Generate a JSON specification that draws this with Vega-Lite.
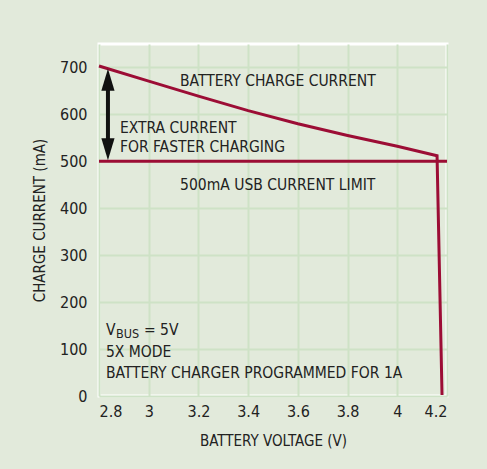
{
  "$schema": "https://vega.github.io/schema/vega-lite/v6.json",
  "width": 348,
  "height": 352,
  "autosize": {"type": "none"},
  "padding": {"left": 99, "top": 44, "right": 40, "bottom": 73},
  "background": "#e2eadb",
  "config": {
    "font": "DejaVu Sans Condensed",
    "view": {"stroke": "#ffffff", "strokeWidth": 3, "fill": null},
    "axis": {
      "labelFont": "DejaVu Sans Condensed",
      "titleFont": "DejaVu Sans Condensed",
      "labelFontSize": 16,
      "titleFontSize": 15,
      "labelColor": "#222222",
      "titleColor": "#222222",
      "titleFontWeight": "normal",
      "gridColor": "#cee2c6",
      "gridWidth": 2,
      "gridOpacity": 1,
      "domain": false,
      "ticks": false
    }
  },
  "layer": [
    {
      "data": {"values": [
        {"v": 2.8, "i": 703},
        {"v": 3.0, "i": 671},
        {"v": 3.2, "i": 639},
        {"v": 3.4, "i": 608},
        {"v": 3.6, "i": 580},
        {"v": 3.8, "i": 555},
        {"v": 4.0, "i": 532},
        {"v": 4.16, "i": 512},
        {"v": 4.18, "i": 2}
      ]},
      "mark": {"type": "line", "color": "#9c0d35", "strokeWidth": 3, "clip": false},
      "encoding": {
        "x": {"field": "v", "type": "quantitative", "scale": {"domain": [2.8, 4.2], "nice": false, "zero": false},
          "axis": {"values": [2.8, 3, 3.2, 3.4, 3.6, 3.8, 4, 4.2], "format": ".1~f", "labelPadding": 7, "title": "BATTERY VOLTAGE (V)", "titlePadding": 14}},
        "y": {"field": "i", "type": "quantitative", "scale": {"domain": [0, 750], "nice": false},
          "axis": {"values": [0, 50, 100, 150, 200, 250, 300, 350, 400, 450, 500, 550, 600, 650, 700, 750],
            "labelExpr": "datum.value % 100 == 0 ? datum.label : ''", "labelPadding": 12,
            "title": "CHARGE CURRENT (mA)", "titlePadding": 12}}
      }
    },
    {
      "data": {"values": [{"v": 2.8, "i": 500}, {"v": 4.2, "i": 500}]},
      "mark": {"type": "line", "color": "#9c0d35", "strokeWidth": 3},
      "encoding": {
        "x": {"field": "v", "type": "quantitative"},
        "y": {"field": "i", "type": "quantitative"}
      }
    },
    {
      "data": {"values": [{"v": 2.836, "i1": 520, "i2": 680}]},
      "mark": {"type": "rule", "color": "#111111", "strokeWidth": 4},
      "encoding": {
        "x": {"field": "v", "type": "quantitative"},
        "y": {"field": "i1", "type": "quantitative"},
        "y2": {"field": "i2"}
      }
    },
    {
      "data": {"values": [{"v": 2.836, "i": 674, "dir": "up"}, {"v": 2.836, "i": 526, "dir": "down"}]},
      "mark": {"type": "point", "filled": true, "color": "#111111", "opacity": 1, "size": 484},
      "encoding": {
        "x": {"field": "v", "type": "quantitative"},
        "y": {"field": "i", "type": "quantitative"},
        "shape": {"field": "dir", "type": "nominal", "legend": null,
          "scale": {"domain": ["up", "down"], "range": ["M0,-1L0.6,1L-0.6,1Z", "M0,1L0.6,-1L-0.6,-1Z"]}}
      }
    },
    {
      "data": {"values": [
        {"v": 3.126, "i": 672, "t": "BATTERY CHARGE CURRENT"},
        {"v": 2.884, "i": 572, "t": "EXTRA CURRENT"},
        {"v": 2.884, "i": 530, "t": "FOR FASTER CHARGING"},
        {"v": 3.126, "i": 449, "t": "500mA USB CURRENT LIMIT"},
        {"v": 2.828, "i": 140, "t": "V"},
        {"v": 2.828, "i": 93, "t": "5X MODE"},
        {"v": 2.828, "i": 49, "t": "BATTERY CHARGER PROGRAMMED FOR 1A"}
      ]},
      "mark": {"type": "text", "align": "left", "baseline": "middle", "fontSize": 15.5, "color": "#222222"},
      "encoding": {
        "x": {"field": "v", "type": "quantitative"},
        "y": {"field": "i", "type": "quantitative"},
        "text": {"field": "t"}
      }
    },
    {
      "data": {"values": [{"v": 2.828, "i": 140, "t": "BUS"}]},
      "mark": {"type": "text", "align": "left", "baseline": "middle", "fontSize": 12.5, "dx": 10, "dy": 4, "color": "#222222"},
      "encoding": {
        "x": {"field": "v", "type": "quantitative"},
        "y": {"field": "i", "type": "quantitative"},
        "text": {"field": "t"}
      }
    },
    {
      "data": {"values": [{"v": 2.828, "i": 140, "t": "= 5V"}]},
      "mark": {"type": "text", "align": "left", "baseline": "middle", "fontSize": 15.5, "dx": 38, "color": "#222222"},
      "encoding": {
        "x": {"field": "v", "type": "quantitative"},
        "y": {"field": "i", "type": "quantitative"},
        "text": {"field": "t"}
      }
    }
  ]
}
